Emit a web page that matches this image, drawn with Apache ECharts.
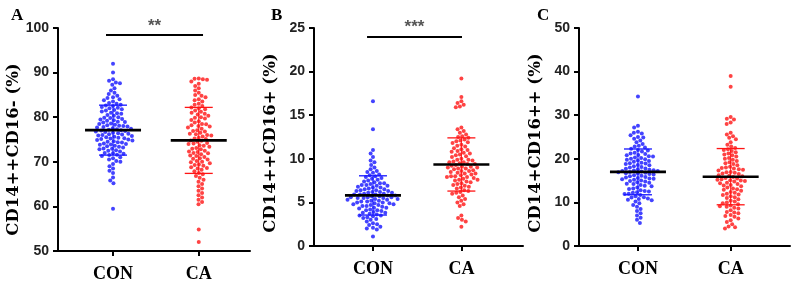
<!DOCTYPE html>
<html>
<head>
<meta charset="utf-8">
<script src="https://cdn.jsdelivr.net/npm/echarts@6/dist/echarts.min.js"></script>
<style>
  html, body { margin: 0; padding: 0; background: #fff; }
  #chart { width: 796px; height: 286px; }
</style>
</head>
<body>
<div id="chart"></div>
<script>
// groups and panels
const categories = ["CON", "CA"];
const panelLetters = ["A", "B", "C"];
const axisTitles = ["CD14++CD16- (%)", "CD14++CD16+ (%)", "CD14+CD16++ (%)"];
const yMin = [50, 0, 0];
const yMax = [100, 25, 50];
const yStep = [10, 5, 10];
const sigLabels = ["**", "***", ""];

// values (one point per subject)
const conA = [92.0, 90.0, 88.5, 88.2, 87.8, 87.6, 87.3, 86.5, 86.0, 85.5, 85.2, 84.8, 84.5, 84.3, 84.0, 83.8, 83.5, 83.2, 83.0, 82.8, 82.6, 82.5, 82.3, 82.1, 82.0, 81.8, 81.6, 81.5, 81.3, 81.0, 80.9, 80.8, 80.5, 80.3, 80.0, 79.9, 79.8, 79.6, 79.5, 79.3, 79.2, 79.0, 78.9, 78.8, 78.6, 78.5, 78.3, 78.2, 78.1, 78.0, 77.9, 77.8, 77.7, 77.5, 77.4, 77.3, 77.2, 77.1, 77.0, 76.9, 76.8, 76.7, 76.5, 76.4, 76.3, 76.2, 76.1, 76.0, 75.9, 75.8, 75.6, 75.5, 75.4, 75.3, 75.2, 75.1, 75.0, 74.9, 74.8, 74.6, 74.5, 74.4, 74.3, 74.1, 74.0, 73.9, 73.8, 73.6, 73.5, 73.4, 73.2, 73.0, 72.9, 72.8, 72.6, 72.5, 72.3, 72.0, 71.9, 71.8, 71.6, 71.5, 71.3, 71.0, 70.8, 70.5, 70.2, 70.0, 69.5, 69.0, 68.5, 68.0, 67.5, 66.5, 65.8, 65.2, 59.5];
const caA = [88.7, 88.6, 88.5, 88.4, 88.0, 87.5, 87.0, 86.5, 86.0, 85.5, 85.0, 84.8, 84.5, 84.0, 83.8, 83.5, 83.0, 82.8, 82.5, 82.2, 82.0, 81.8, 81.5, 81.2, 81.0, 80.8, 80.6, 80.3, 80.0, 79.9, 79.7, 79.4, 79.1, 78.8, 78.5, 78.4, 78.2, 78.0, 77.9, 77.7, 77.4, 77.1, 76.9, 76.8, 76.5, 76.3, 76.2, 76.0, 75.9, 75.7, 75.4, 75.2, 75.1, 74.8, 74.7, 74.5, 74.2, 74.1, 74.0, 73.7, 73.6, 73.4, 73.1, 72.9, 72.8, 72.5, 72.3, 72.2, 72.0, 71.9, 71.7, 71.4, 71.3, 71.1, 70.8, 70.7, 70.5, 70.2, 70.0, 69.9, 69.7, 69.4, 69.3, 69.1, 68.8, 68.6, 68.5, 68.2, 67.9, 67.5, 67.2, 66.8, 66.4, 66.0, 65.5, 65.0, 64.5, 64.0, 63.5, 63.0, 62.5, 62.0, 61.5, 61.0, 60.5, 54.8, 52.0];
const conB = [16.6, 13.4, 11.0, 10.6, 10.2, 9.8, 9.6, 9.3, 9.0, 8.8, 8.6, 8.5, 8.4, 8.2, 8.1, 8.0, 7.9, 7.8, 7.7, 7.6, 7.5, 7.4, 7.3, 7.2, 7.2, 7.1, 7.0, 7.0, 6.9, 6.9, 6.8, 6.7, 6.7, 6.6, 6.5, 6.5, 6.4, 6.4, 6.3, 6.3, 6.2, 6.2, 6.1, 6.1, 6.0, 6.0, 5.9, 5.9, 5.9, 5.8, 5.8, 5.7, 5.7, 5.6, 5.6, 5.6, 5.5, 5.5, 5.5, 5.4, 5.4, 5.3, 5.3, 5.2, 5.2, 5.1, 5.1, 5.0, 5.0, 4.9, 4.9, 4.8, 4.8, 4.7, 4.7, 4.6, 4.6, 4.5, 4.4, 4.4, 4.3, 4.2, 4.1, 4.1, 4.0, 3.9, 3.8, 3.8, 3.7, 3.6, 3.5, 3.5, 3.4, 3.3, 3.2, 3.1, 3.0, 2.8, 2.6, 2.5, 2.4, 2.2, 2.1, 2.0, 1.9, 1.1];
const caB = [19.2, 17.1, 16.6, 16.4, 16.2, 16.0, 15.9, 13.6, 13.4, 13.2, 13.0, 12.8, 12.6, 12.5, 12.4, 12.2, 12.1, 12.0, 11.9, 11.8, 11.6, 11.5, 11.4, 11.2, 11.1, 11.0, 10.9, 10.8, 10.7, 10.6, 10.5, 10.4, 10.3, 10.2, 10.0, 9.9, 9.9, 9.8, 9.7, 9.6, 9.6, 9.5, 9.4, 9.4, 9.3, 9.2, 9.1, 9.1, 9.0, 9.0, 8.9, 8.9, 8.8, 8.7, 8.6, 8.6, 8.5, 8.4, 8.3, 8.3, 8.2, 8.1, 8.0, 8.0, 7.9, 7.9, 7.8, 7.7, 7.6, 7.6, 7.5, 7.4, 7.3, 7.2, 7.1, 7.0, 6.9, 6.8, 6.7, 6.6, 6.4, 6.3, 6.2, 6.1, 6.0, 5.8, 5.6, 5.4, 5.2, 5.0, 4.8, 4.6, 3.5, 3.2, 3.0, 2.8, 2.2];
const conC = [34.3, 27.6, 27.2, 26.2, 26.0, 25.8, 25.4, 25.0, 24.9, 24.6, 24.2, 23.8, 23.4, 23.0, 22.8, 22.6, 22.3, 22.0, 21.9, 21.7, 21.4, 21.2, 21.1, 20.9, 20.8, 20.6, 20.5, 20.3, 20.2, 20.0, 19.9, 19.8, 19.6, 19.5, 19.3, 19.1, 19.0, 18.9, 18.8, 18.6, 18.5, 18.3, 18.1, 18.0, 17.8, 17.7, 17.6, 17.5, 17.4, 17.3, 17.2, 17.2, 17.1, 17.0, 16.9, 16.8, 16.7, 16.6, 16.5, 16.4, 16.2, 16.1, 16.0, 15.8, 15.7, 15.6, 15.5, 15.4, 15.3, 15.2, 15.0, 14.9, 14.8, 14.6, 14.5, 14.3, 14.2, 14.0, 13.8, 13.7, 13.4, 13.2, 13.1, 12.8, 12.6, 12.5, 12.3, 12.2, 12.0, 11.9, 11.7, 11.4, 11.2, 11.1, 10.9, 10.8, 10.6, 10.5, 10.2, 9.8, 9.4, 9.0, 8.5, 8.0, 7.5, 7.0, 6.5, 6.0, 5.3];
const caC = [39.0, 36.5, 29.6, 29.2, 29.0, 28.3, 28.0, 26.0, 25.6, 25.2, 24.8, 24.5, 23.8, 23.2, 22.8, 22.5, 22.2, 22.0, 21.8, 21.5, 21.2, 21.0, 20.8, 20.5, 20.2, 20.0, 19.8, 19.5, 19.2, 19.0, 18.8, 18.5, 18.2, 18.0, 17.9, 17.8, 17.6, 17.5, 17.3, 17.0, 16.9, 16.8, 16.6, 16.5, 16.2, 16.1, 16.0, 15.8, 15.6, 15.5, 15.3, 15.2, 15.1, 15.0, 14.9, 14.8, 14.5, 14.4, 14.2, 14.0, 13.9, 13.7, 13.4, 13.2, 13.0, 12.9, 12.7, 12.4, 12.2, 12.0, 11.8, 11.7, 11.4, 11.2, 11.0, 10.7, 10.4, 10.2, 10.0, 9.8, 9.6, 9.3, 9.1, 9.0, 8.8, 8.6, 8.2, 7.8, 7.7, 7.5, 7.1, 6.9, 6.7, 6.3, 5.9, 5.5, 5.0, 4.5, 4.3, 4.0];

// mean and SD bars as drawn
const meanA = [77.1, 74.8];
const sdA = [5.6, 7.4];
const meanB = [5.8, 9.35];
const sdB = [2.25, 3.05];
const meanC = [17.0, 15.9];
const sdC = [5.25, 6.45];

const panels = [
  { con: conA, ca: caA, mean: meanA, sd: sdA },
  { con: conB, ca: caB, mean: meanB, sd: sdB },
  { con: conC, ca: caC, mean: meanC, sd: sdC },
];

const colors = ["#1414ff", "#ff1414"];

// layout of the three panels
const grids = [
  { left: 58, top: 28, width: 192, height: 223 },
  { left: 314, top: 28, width: 209, height: 218 },
  { left: 579, top: 28, width: 211, height: 218 },
];
const xRange = [[0.358, 2.598], [0.333, 2.697], [0.364, 2.640]];
const sigSpan = [[0.918, 2.05, 98.5], [0.933, 2.007, 24.05], null];
const letterLeft = [6, 266, 532];

var myChart = echarts.init(document.getElementById("chart"));

function errorBars(params, api) {
  const x = api.value(0);
  const m = api.value(1);
  const s = api.value(2);
  const c = colors[params.dataIndex];
  const pm = api.coord([x, m]);
  const pu = api.coord([x, m + s]);
  const pl = api.coord([x, m - s]);
  const line = (x1, y1, x2, y2, color, w) => ({
    type: "line",
    shape: { x1: x1, y1: y1, x2: x2, y2: y2 },
    style: { stroke: color, lineWidth: w },
  });
  return {
    type: "group",
    children: [
      line(pu[0], pu[1], pl[0], pl[1], c, 1),
      line(pu[0] - 14, pu[1], pu[0] + 14, pu[1], c, 1.3),
      line(pl[0] - 14, pl[1], pl[0] + 14, pl[1], c, 1.3),
      line(pm[0] - 28, pm[1], pm[0] + 28, pm[1], "#000", 2.6),
    ],
  };
}

let xAxes = [];
let yAxes = [];
let series = [];
let titles = [];

for (let k = 0; k < 3; k++) {
  titles.push({
    text: panelLetters[k],
    left: letterLeft[k],
    top: 2,
    textStyle: { fontFamily: "Liberation Serif", fontWeight: "bold", fontSize: 17, color: "#000" },
  });
  xAxes.push({
    type: "value",
    gridIndex: k,
    min: xRange[k][0],
    max: xRange[k][1],
    splitLine: { show: false },
    axisLine: { onZero: false, lineStyle: { color: "#000", width: 2 } },
    axisTick: { customValues: [1, 2], length: 5, lineStyle: { color: "#000", width: 2 } },
    axisLabel: {
      customValues: [1, 2],
      formatter: (v) => categories[Math.round(v) - 1],
      margin: 14,
      fontFamily: "Liberation Serif",
      fontWeight: "bold",
      fontSize: 18,
      color: "#000",
    },
  });
  yAxes.push({
    type: "value",
    gridIndex: k,
    min: yMin[k],
    max: yMax[k],
    interval: yStep[k],
    splitLine: { show: false },
    axisLine: { show: true, onZero: false, lineStyle: { color: "#000", width: 2 } },
    axisTick: { show: true, length: 5, lineStyle: { color: "#000", width: 2 } },
    axisLabel: {
      margin: 9,
      fontFamily: "Liberation Sans",
      fontWeight: "bold",
      fontSize: 14,
      color: "#222",
    },
    name: axisTitles[k],
    nameLocation: "middle",
    nameGap: 35,
    nameTextStyle: {
      fontFamily: "DejaVu Serif",
      fontWeight: "bold",
      fontSize: 16.5,
      color: "#000",
      padding: [0, k === 0 ? 20 : 12, 0, 0],
    },
  });
  const groups = [panels[k].con, panels[k].ca];
  groups.forEach((vals, g) => {
    series.push({
      type: "scatter",
      xAxisIndex: k,
      yAxisIndex: k,
      symbolSize: 4,
      itemStyle: { color: colors[g] },
      data: vals.map((v) => [g + 1, v]),
      z: 2,
    });
  });
  const bars = {
    type: "custom",
    xAxisIndex: k,
    yAxisIndex: k,
    renderItem: errorBars,
    data: [
      [1, panels[k].mean[0], panels[k].sd[0]],
      [2, panels[k].mean[1], panels[k].sd[1]],
    ],
    z: 3,
  };
  if (sigSpan[k]) {
    const s = sigSpan[k];
    bars.markLine = {
      silent: true,
      symbol: "none",
      lineStyle: { color: "#000", width: 2, type: "solid" },
      label: {
        position: "middle",
        formatter: sigLabels[k],
        color: "#555",
        fontSize: 17,
        fontWeight: "bold",
        distance: 0,
      },
      data: [[{ coord: [s[0], s[2]] }, { coord: [s[1], s[2]] }]],
    };
  }
  series.push(bars);
}

myChart.setOption({
  animation: false,
  title: titles,
  grid: grids,
  xAxis: xAxes,
  yAxis: yAxes,
  series: series,
});

// lay the dots out as a swarm around each group position (pixel space)
function swarm(k, xc, values) {
  const d = 4.2;
  const base = myChart.convertToPixel({ gridIndex: k }, [xc, values[0]]);
  const unit = myChart.convertToPixel({ gridIndex: k }, [xc + 1, values[0]])[0] - base[0];
  let pts = values.map((v) => ({ v: v, y: myChart.convertToPixel({ gridIndex: k }, [xc, v])[1], x: 0 }));
  pts.sort((a, b) => a.y - b.y);
  let placed = [];
  for (let p of pts) {
    let blocks = [];
    for (let q of placed) {
      const dy = Math.abs(p.y - q.y);
      if (dy < d) {
        const w = Math.sqrt(d * d - dy * dy);
        blocks.push([q.x - w, q.x + w]);
      }
    }
    let cands = [0];
    blocks.forEach((b) => cands.push(b[0], b[1]));
    cands.sort((a, b) => Math.abs(a) - Math.abs(b));
    for (let c of cands) {
      if (blocks.every((b) => c <= b[0] + 1e-6 || c >= b[1] - 1e-6)) {
        p.x = c;
        break;
      }
    }
    placed.push(p);
  }
  return pts.map((p) => [xc + p.x / unit, p.v]);
}

let newSeries = [];
for (let k = 0; k < 3; k++) {
  newSeries.push({ data: swarm(k, 1, panels[k].con) });
  newSeries.push({ data: swarm(k, 2, panels[k].ca) });
  newSeries.push({});
}
myChart.setOption({ series: newSeries });
</script>
</body>
</html>
